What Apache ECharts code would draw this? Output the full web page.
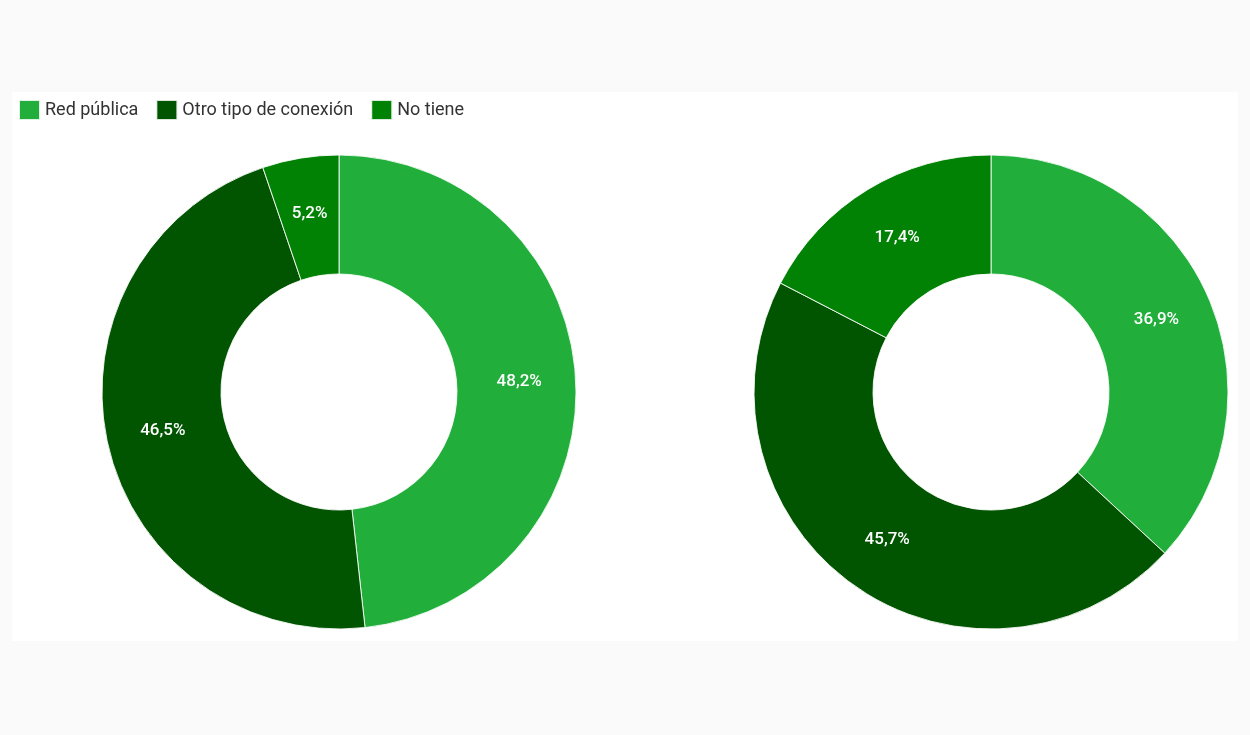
<!DOCTYPE html>
<html>
<head>
<meta charset="utf-8">
<script src="https://cdn.jsdelivr.net/npm/echarts@6/dist/echarts.min.js"></script>
<style>
html,body{margin:0;padding:0;background:#fafafa;}
#chart{width:1250px;height:735px;}
</style>
</head>
<body>
<div id="chart"></div>
<script>
const categories = ["Red pública", "Otro tipo de conexión", "No tiene"];
const leftValues = [48.2, 46.5, 5.2];
const rightValues = [36.9, 45.7, 17.4];
const colors = ["#21ae3a", "#015501", "#028205"];

const chart = echarts.init(document.getElementById('chart'), null, {renderer: 'canvas'});

function buildData(vals) {
  return categories.map((c, i) => ({ name: c, value: vals[i] }));
}

const pieCommon = {
  type: 'pie',
  radius: [118, 237],
  startAngle: 90,
  clockwise: true,
  avoidLabelOverlap: false,
  silent: true,
  itemStyle: { borderColor: 'rgba(255,255,255,0.85)', borderWidth: 1 },
  label: {
    show: true,
    position: 'inside',
    color: '#ffffff',
    fontFamily: 'Roboto',
    fontSize: 17,
    fontWeight: 500,
    formatter: p => p.value.toFixed(1).replace('.', ',') + '%'
  },
  labelLine: { show: false },
  emphasis: { disabled: true }
};

chart.setOption({
  backgroundColor: '#fafafa',
  color: colors,
  animation: false,
  graphic: [{
    type: 'rect',
    z: -10,
    shape: { x: 12, y: 92, width: 1226, height: 549 },
    style: { fill: '#ffffff' }
  }],
  legend: {
    left: 13,
    top: 94,
    itemWidth: 21,
    itemHeight: 20,
    itemGap: 17,
    icon: 'rect',
    textStyle: { fontFamily: 'Roboto', fontSize: 18, color: '#333333' },
    data: categories
  },
  series: [
    Object.assign({}, pieCommon, { center: [339, 392], data: buildData(leftValues) }),
    Object.assign({}, pieCommon, { center: [991, 392], data: buildData(rightValues) })
  ]
});
</script>
</body>
</html>
